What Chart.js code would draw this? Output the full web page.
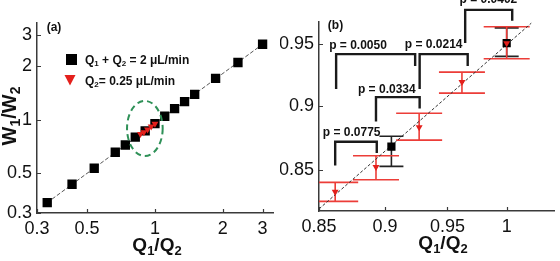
<!DOCTYPE html>
<html>
<head>
<meta charset="utf-8">
<script src="https://cdn.jsdelivr.net/npm/chart.js@4"></script>
<style>
  html, body { margin: 0; padding: 0; background: #fff; }
  #wrap { position: relative; width: 560px; height: 261px; overflow: hidden; }
  .box { position: absolute; top: 0; width: 280px; height: 261px; }
</style>
</head>
<body>
<div id="wrap">
  <div class="box" style="left:0"><canvas id="chart-a" width="280" height="261"></canvas></div>
  <div class="box" style="left:280px"><canvas id="chart-b" width="280" height="261"></canvas></div>
</div>
<script>
// ── data ──────────────────────────────────────────────────────
// Q1 + Q2 = 2 uL/min
const qSum = [0.333, 0.429, 0.538, 0.667, 0.739, 0.818, 0.905, 1.0, 1.105, 1.222, 1.353, 1.5, 1.857, 2.333, 3.0];
const wSum = [0.343, 0.435, 0.535, 0.658, 0.723, 0.800, 0.868, 0.952, 1.048, 1.157, 1.266, 1.39, 1.71, 2.10, 2.66];
// Q2 = 0.25 uL/min
const qFix = [0.862, 0.893, 0.927, 0.962, 1.0];
const wFix = [0.834, 0.8525, 0.883, 0.919, 0.951];
const wFixLo = [0.827, 0.843, 0.873, 0.910, 0.938];
const wFixHi = [0.841, 0.861, 0.894, 0.927, 0.965];
// Q1 + Q2 points shown in (b)
const qSumB = [0.905, 1.0];
const wSumB = [0.868, 0.951];
const wSumLo = [0.853, 0.940];
const wSumHi = [0.876, 0.964];
// dashed fit lines
const fitAX = [0.333, 3.0];
const fitAY = [0.343, 2.66];
const fitBX = [0.85, 1.0215];
const fitBY = [0.8215, 0.968];
// ticks
const ticksA = [0.3, 0.5, 1, 2, 3];
const ticksBX = [0.85, 0.9, 0.95, 1];
const ticksBY = [0.85, 0.9, 0.95];
// p-value brackets
const pLabels = ['p = 0.0775', 'p = 0.0334', 'p = 0.0050', 'p = 0.0214', 'p = 0.0402'];
const brLeft = [0.862, 0.893, 0.8627, 0.9274, 0.9647];
const brRight = [0.8936, 0.9274, 0.9238, 0.9668, 1.0048];
const brLeftY = [0.8537, 0.8874, 0.9134, 0.9134, 0.9511];
const brRightY = [0.8631, 0.8977, 0.932, 0.932, 0.9701];
const brTop = [0.8717, 0.9068, 0.9419, 0.9419, 0.9794];
const pLabelX = [0.8744, 0.9014, 0.8792, 0.9387, 0.9843];
const pLabelY = [0.8786, 0.9125, 0.9491, 0.9497, 0.9887];
// highlighted region in (a)
const ringQ = [0.752, 1.082];
const ringW = [0.627, 1.278];

// ── styling ───────────────────────────────────────────────────
const FAM = '"Liberation Sans", Arial, sans-serif';
const AXIS = '#3a3a3a';
const RED = '#e4201c';
const RED_BAR = '#ec3d38';

const subQ = [['Q', 0], ['1', 1], ['/Q', 0], ['2', 1]];
const subW = [['W', 0], ['1', 1], ['/W', 0], ['2', 1]];
const legendA = [
  [['Q', 0], ['1', 1], [' + Q', 0], ['2', 1], [' = 2 μL/min', 0]],
  [['Q', 0], ['2', 1], ['= 0.25 μL/min', 0]],
];

function richText(ctx, parts, x, y, size, align) {
  const subSize = Math.round(size * 0.68);
  let w = 0;
  parts.forEach(([t, s]) => { ctx.font = `bold ${s ? subSize : size}px ${FAM}`; w += ctx.measureText(t).width; });
  let cx = align === 'center' ? x - w / 2 : x;
  ctx.textAlign = 'left';
  ctx.textBaseline = 'alphabetic';
  parts.forEach(([t, s]) => {
    ctx.font = `bold ${s ? subSize : size}px ${FAM}`;
    ctx.fillText(t, cx, s ? y + size * 0.22 : y);
    cx += ctx.measureText(t).width;
  });
}

function logAxis(min, max, ticks, size) {
  return {
    type: 'logarithmic', min, max,
    afterBuildTicks: s => { s.ticks = ticks.map(v => ({ value: v })); },
    afterFit: s => { if (s.isHorizontal()) s.height = size; else s.width = size; },
    ticks: { color: '#111', font: { family: FAM, size: 18 }, padding: 5, autoSkip: false, maxRotation: 0, callback: v => String(v) },
    grid: { display: true, drawOnChartArea: false, drawTicks: false },
    border: { display: true, color: AXIS, width: 1.5 },
  };
}

const pts = (xs, ys) => xs.map((x, i) => ({ x, y: ys[i] }));

// inward tick marks, matlab style
const innerTicks = {
  id: 'innerTicks',
  afterDraw(chart) {
    const { ctx, chartArea: a, scales: { x, y } } = chart;
    ctx.save();
    ctx.strokeStyle = AXIS;
    ctx.lineWidth = 1.2;
    ctx.beginPath();
    x.ticks.forEach(t => { const p = Math.round(x.getPixelForValue(t.value)) + 0.5; ctx.moveTo(p, a.bottom); ctx.lineTo(p, a.bottom - 4); });
    y.ticks.forEach(t => { const p = Math.round(y.getPixelForValue(t.value)) + 0.5; ctx.moveTo(a.left, p); ctx.lineTo(a.left + 4, p); });
    ctx.stroke();
    ctx.restore();
  },
};

function panelText(tag, tagX, tagY, titleX, withY) {
  return {
    id: 'panelText',
    afterDraw(chart) {
      const { ctx, chartArea: a } = chart;
      ctx.save();
      ctx.fillStyle = '#111';
      richText(ctx, subQ, titleX, a.bottom + 38, 19, 'center');
      if (withY) {
        ctx.translate(16, 116);
        ctx.rotate(-Math.PI / 2);
        richText(ctx, subW, 0, 0, 20, 'center');
        ctx.setTransform(1, 0, 0, 1, 0, 0);
      }
      ctx.font = `bold 12px ${FAM}`;
      ctx.textAlign = 'center';
      ctx.textBaseline = 'middle';
      ctx.fillText(tag, tagX, tagY);
      ctx.restore();
    },
  };
}

// ── panel (a) ─────────────────────────────────────────────────
const extrasA = {
  id: 'extrasA',
  afterDatasetsDraw(chart) {
    const { ctx, scales: { x, y } } = chart;
    const x0 = x.getPixelForValue(ringQ[0]), x1 = x.getPixelForValue(ringQ[1]);
    const y0 = y.getPixelForValue(ringW[1]), y1 = y.getPixelForValue(ringW[0]);
    ctx.save();
    ctx.strokeStyle = '#2f9158';
    ctx.lineWidth = 2;
    ctx.setLineDash([6, 4]);
    ctx.beginPath();
    ctx.ellipse((x0 + x1) / 2, (y0 + y1) / 2, (x1 - x0) / 2, (y1 - y0) / 2, 0, 0, Math.PI * 2);
    ctx.stroke();
    ctx.setLineDash([]);
    // legend
    ctx.fillStyle = '#000';
    ctx.fillRect(66, 54, 11, 11);
    ctx.fillStyle = RED;
    ctx.beginPath();
    ctx.moveTo(64.5, 75); ctx.lineTo(75.5, 75); ctx.lineTo(70, 85.5); ctx.closePath();
    ctx.fill();
    ctx.fillStyle = '#111';
    richText(ctx, legendA[0], 85, 63.5, 12, 'left');
    richText(ctx, legendA[1], 85, 84.5, 12, 'left');
    ctx.restore();
  },
};

new Chart(document.getElementById('chart-a'), {
  type: 'scatter',
  data: {
    datasets: [
      { data: pts(qFix, wFix), pointStyle: 'triangle', rotation: 180, pointRadius: 4, backgroundColor: RED, borderColor: RED, borderWidth: 0, order: 1 },
      { data: pts(qSum, wSum), pointStyle: 'rect', pointRadius: 6.6, backgroundColor: '#000', borderWidth: 0, order: 2 },
      { data: pts(fitAX, fitAY), showLine: true, borderColor: '#555', borderWidth: 1, borderDash: [4, 2], pointRadius: 0, order: 3 },
    ],
  },
  options: {
    responsive: false, animation: false,
    layout: { padding: { left: 0, top: 23, right: 4, bottom: 0 } },
    plugins: { legend: { display: false }, tooltip: { enabled: false } },
    scales: { x: logAxis(0.3, 3.35, ticksA, 48), y: logAxis(0.3, 3.5, ticksA, 37) },
  },
  plugins: [extrasA, innerTicks, panelText('(a)', 54, 28, 157, true)],
});

// ── panel (b) ─────────────────────────────────────────────────
function errBars(ctx, x, y, xs, lo, hi, half, color) {
  ctx.strokeStyle = color;
  ctx.lineWidth = 1.6;
  ctx.beginPath();
  xs.forEach((v, i) => {
    const px = x.getPixelForValue(v);
    const pl = y.getPixelForValue(lo[i]), ph = y.getPixelForValue(hi[i]);
    ctx.moveTo(px, pl); ctx.lineTo(px, ph);
    ctx.moveTo(px - half, pl); ctx.lineTo(px + half, pl);
    ctx.moveTo(px - half, ph); ctx.lineTo(px + half, ph);
  });
  ctx.stroke();
}

const extrasB = {
  id: 'extrasB',
  beforeDatasetsDraw(chart) {
    const { ctx, chartArea: a, scales: { x, y } } = chart;
    ctx.save();
    ctx.beginPath();
    ctx.rect(a.left, 0, a.right - a.left, a.bottom);
    ctx.clip();
    errBars(ctx, x, y, qSumB, wSumLo, wSumHi, 12, '#222');
    errBars(ctx, x, y, qFix, wFixLo, wFixHi, 23, RED_BAR);
    ctx.restore();
  },
  afterDatasetsDraw(chart) {
    const { ctx, scales: { x, y } } = chart;
    ctx.save();
    ctx.fillStyle = '#111';
    ctx.font = `bold 12px ${FAM}`;
    ctx.textAlign = 'center';
    ctx.textBaseline = 'middle';
    pLabels.forEach((t, i) => ctx.fillText(t, x.getPixelForValue(pLabelX[i]), y.getPixelForValue(pLabelY[i])));
    ctx.restore();
  },
};

const bracketSets = pLabels.map((_, i) => ({
  data: [
    { x: brLeft[i], y: brLeftY[i] }, { x: brLeft[i], y: brTop[i] },
    { x: brRight[i], y: brTop[i] }, { x: brRight[i], y: brRightY[i] },
  ],
  showLine: true, borderColor: '#1a1a1a', borderWidth: 2.4, pointRadius: 0, clip: false, order: 0,
}));

new Chart(document.getElementById('chart-b'), {
  type: 'scatter',
  data: {
    datasets: [
      ...bracketSets,
      { data: pts(qFix, wFix), pointStyle: 'triangle', rotation: 180, pointRadius: 4, backgroundColor: RED, borderWidth: 0, order: 1 },
      { data: pts(qSumB, wSumB), pointStyle: 'rect', pointRadius: 5.8, backgroundColor: '#000', borderWidth: 0, order: 2 },
      { data: pts(fitBX, fitBY), showLine: true, borderColor: '#333', borderWidth: 1, borderDash: [3, 2], pointRadius: 0, order: 3 },
    ],
  },
  options: {
    responsive: false, animation: false,
    layout: { padding: { left: 0, top: 22, right: 0, bottom: 0 } },
    plugins: { legend: { display: false }, tooltip: { enabled: false } },
    scales: { x: logAxis(0.85, 1.042, ticksBX, 50), y: logAxis(0.821, 0.969, ticksBY, 39) },
  },
  plugins: [extrasB, innerTicks, panelText('(b)', 55.5, 25.5, 163, false)],
});
</script>
</body>
</html>
